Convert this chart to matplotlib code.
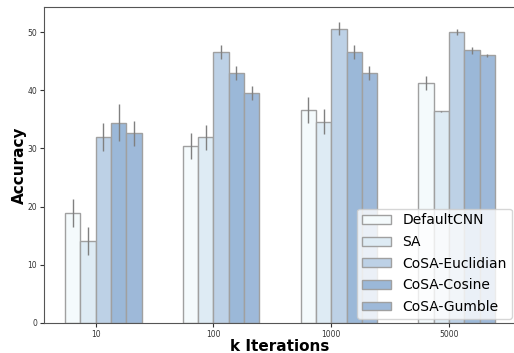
import numpy as np
import matplotlib.pyplot as plt

iterations = ["10", "100", "1000", "5000"]
methods = ["DefaultCNN", "SA", "CoSA-Euclidian", "CoSA-Cosine", "CoSA-Gumble"]

default_cnn = [18.9, 30.4, 36.6, 41.2]
sa = [14.1, 31.9, 34.6, 36.4]
cosa_euclid = [32.0, 46.5, 50.6, 50.0]
cosa_cosine = [34.4, 43.0, 46.6, 46.85]
cosa_gumble = [32.6, 39.6, 43.0, 46.0]

default_cnn_err = [2.4, 2.2, 2.2, 1.2]
sa_err = [2.4, 2.2, 2.2, 0.1]
cosa_euclid_err = [2.4, 1.2, 1.1, 0.45]
cosa_cosine_err = [3.2, 1.2, 1.2, 0.55]
cosa_gumble_err = [2.1, 1.2, 1.2, 0.3]

colors = ["#f4fafc", "#deebf4", "#bdd1e6", "#9bb8d8", "#9eb9d9"]

values = [default_cnn, sa, cosa_euclid, cosa_cosine, cosa_gumble]
errors = [default_cnn_err, sa_err, cosa_euclid_err, cosa_cosine_err, cosa_gumble_err]

fig = plt.figure(figsize=(5.14, 3.53), dpi=100)
ax = fig.add_axes([44 / 514, 30 / 353, 472 / 514, 316 / 353])

x = np.arange(len(iterations))
w = 0.13
for i, (name, vals, errs, c) in enumerate(zip(methods, values, errors, colors)):
    ax.bar(x + (i - 2) * w, vals, w, align="edge", color=c, edgecolor="#a0a0a0",
           linewidth=1.0, label=name)
    ax.errorbar(x + (i - 1.5) * w, vals, yerr=errs, fmt="none", ecolor="#808080",
                elinewidth=1.0, capsize=0)

ax.set_xticks(x)
ax.set_xticklabels(iterations)
ax.set_xlim(-0.44, 3.57)
ax.set_ylim(0, 54.3)
ax.set_yticks(range(0, 51, 10))
ax.tick_params(labelsize=5.5, colors="#333333", length=3, pad=2)
for s in ax.spines.values():
    s.set_color("#555555")
ax.set_xlabel("k Iterations", fontsize=11, fontweight="bold", labelpad=0)
ax.set_ylabel("Accuracy", fontsize=11, fontweight="bold", labelpad=0)

ax.legend(loc="lower right", bbox_to_anchor=(1.0, 0.0), fontsize=10, framealpha=0.8,
          handlelength=2.1, handleheight=0.6, labelspacing=0.55, borderpad=0.35,
          borderaxespad=0.3)

fig.savefig("out.png", dpi=100)
